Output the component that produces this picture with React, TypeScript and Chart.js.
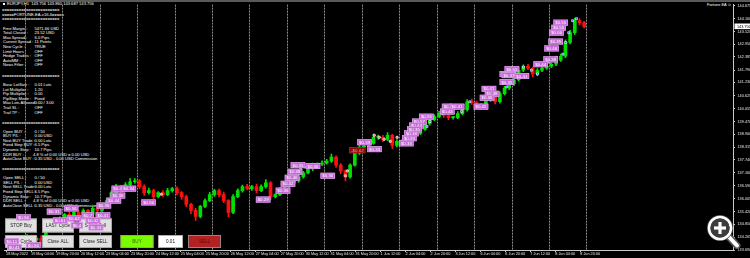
import React, { useEffect, useRef } from "react";
import { Chart, registerables } from "chart.js";
Chart.register(...registerables);

const FONT = '"Liberation Sans", Arial, sans-serif';

// ---- axis data ----
const tickHours = [0, 16, 32, 48, 64, 80, 96, 112, 128, 144, 160, 176, 192, 208, 224, 240, 256, 272, 288, 304, 320, 336, 352, 368];
const tickLabels = ["18 May 2022", "19 May 04:00", "19 May 20:00", "20 May 12:00", "23 May 04:00", "23 May 20:00", "24 May 12:00", "25 May 04:00", "25 May 20:00", "26 May 12:00", "27 May 04:00", "27 May 20:00", "30 May 12:00", "31 May 04:00", "31 May 20:00", "1 Jun 12:00", "2 Jun 04:00", "2 Jun 20:00", "3 Jun 12:00", "6 Jun 04:00", "6 Jun 20:00", "7 Jun 12:00", "8 Jun 04:00", "8 Jun 20:00"];
const gridHours = [12, 36, 60, 84, 108, 132, 156, 180, 204, 228, 252, 276, 300, 324, 348, 372];
const priceTicks = [144.675, 144.1, 143.52, 142.95, 142.385, 141.79, 141.23, 140.625, 140.055, 139.47, 138.9, 138.315, 137.74, 137.16, 136.59, 136.005, 135.42, 134.85, 134.265, 133.69];
const priceMin = 133.69;
const priceMax = 144.733;
const hourMin = -0.955;
const hourMax = 465.9;

// ---- candle data (3-hour candles) ----
const candleHours = 3;
const firstOpen = 134.1;
const closes = [
  134.05, 134.22, 133.96, 134.13, 134.31, 134.13, 134.22, 133.96, 134.58, 134.76,
  134.94, 135.11, 135.29, 135.11, 135.38, 135.2, 135.47, 135.29, 135.56, 135.47,
  135.74, 135.91, 136.27, 136.54, 136.36, 136.63, 136.76, 136.8, 136.54, 136.27,
  136.36, 136.09, 136.27, 136.18, 136.36, 136.45, 136.27, 136.09, 135.74, 135.47,
  135.2, 135.65, 135.91, 136.18, 136.36, 136.18, 135.91, 135.38, 136.09, 136.36,
  136.54, 136.45, 136.54, 136.36, 136.54, 136.71, 136.09, 136.18, 136.36, 136.54,
  136.71, 136.8, 136.98, 137.16, 137.34, 137.51, 137.56, 137.6, 137.69, 137.87,
  137.51, 137.25, 136.98, 137.51, 138.05, 138.32, 138.32, 138.49, 138.76, 138.76,
  138.67, 138.85, 138.4, 138.58, 138.58, 138.76, 138.85, 138.94, 139.12, 139.38,
  139.56, 139.69, 139.83, 139.74, 139.65, 139.65, 139.83, 140.01, 140.36, 140.32,
  140.23, 140.09, 140.45, 140.58, 140.36, 140.72, 140.98, 141.16, 141.34, 141.78,
  141.96, 141.87, 141.61, 141.78, 141.87, 141.96, 142.05, 142.23, 142.41, 143.03,
  143.47, 144.01, 143.92, 143.756,
];
const wickUp = [
  0.05, 0.08, 0.06, 0.1, 0.07, 0.05, 0.09, 0.12, 0.06, 0.08,
  0.1, 0.07, 0.05, 0.12, 0.06, 0.09, 0.07, 0.05, 0.1, 0.08,
  0.06, 0.12, 0.08, 0.1, 0.07, 0.09, 0.14, 0.1, 0.06, 0.08,
  0.12, 0.07, 0.05, 0.09, 0.1, 0.06, 0.08, 0.05, 0.07, 0.06,
  0.09, 0.05, 0.08, 0.1, 0.06, 0.07, 0.12, 0.05, 0.09, 0.08,
  0.07, 0.1, 0.06, 0.12, 0.08, 0.15, 0.06, 0.05, 0.07, 0.09,
  0.06, 0.08, 0.05, 0.07, 0.06, 0.09, 0.05, 0.1, 0.08, 0.14,
  0.06, 0.07, 0.05, 0.06, 0.1, 0.08, 0.12, 0.07, 0.15, 0.1,
  0.09, 0.12, 0.06, 0.08, 0.07, 0.1, 0.06, 0.08, 0.05, 0.07,
  0.06, 0.08, 0.1, 0.07, 0.05, 0.06, 0.09, 0.08, 0.1, 0.12,
  0.07, 0.06, 0.1, 0.08, 0.06, 0.09, 0.07, 0.08, 0.1, 0.12,
  0.06, 0.08, 0.05, 0.07, 0.06, 0.08, 0.05, 0.07, 0.1, 0.12,
  0.1, 0.12, 0.08, 0.06,
];
const wickDn = [
  0.08, 0.06, 0.1, 0.05, 0.07, 0.09, 0.06, 0.15, 0.05, 0.07,
  0.06, 0.09, 0.07, 0.05, 0.1, 0.06, 0.08, 0.07, 0.05, 0.09,
  0.07, 0.05, 0.06, 0.08, 0.1, 0.05, 0.07, 0.06, 0.09, 0.12,
  0.07, 0.1, 0.06, 0.08, 0.05, 0.07, 0.09, 0.12, 0.1, 0.14,
  0.18, 0.07, 0.06, 0.05, 0.08, 0.1, 0.09, 0.2, 0.06, 0.05,
  0.07, 0.06, 0.08, 0.1, 0.05, 0.07, 0.14, 0.06, 0.05, 0.07,
  0.06, 0.05, 0.07, 0.06, 0.05, 0.08, 0.06, 0.07, 0.05, 0.06,
  0.1, 0.12, 0.18, 0.06, 0.05, 0.07, 0.08, 0.06, 0.05, 0.09,
  0.1, 0.06, 0.14, 0.07, 0.08, 0.06, 0.05, 0.07, 0.06, 0.05,
  0.07, 0.06, 0.05, 0.08, 0.09, 0.07, 0.05, 0.06, 0.07, 0.08,
  0.1, 0.09, 0.06, 0.07, 0.1, 0.06, 0.05, 0.07, 0.06, 0.05,
  0.06, 0.07, 0.12, 0.08, 0.06, 0.05, 0.07, 0.06, 0.05, 0.06,
  0.07, 0.08, 0.1, 0.07,
];

// ---- trade markers ----
const buyMarkHours = [176, 178.6, 181, 183.7, 186.2, 188.8, 191.3, 269.8, 271.7, 279.3, 292, 297.2, 303.6, 309.3, 315, 320.8, 324, 327.8, 331.6, 336.7, 340.6, 348.2, 352.6, 356.8, 358.7, 360.6, 363.1, 365.6];
const buyMarkPrices = [136.45, 136.63, 136.8, 136.94, 137.16, 137.34, 137.43, 139.25, 139.47, 139.83, 139.92, 140.36, 140.18, 140.49, 140.67, 141.03, 141.25, 141.47, 141.92, 141.78, 141.61, 142.14, 142.36, 142.5, 143.03, 143.47, 144.01, 144.1];
const closeMarkHours = [217.5, 218.8, 236, 239.2, 242.3, 246.2, 250.6, 253.8, 99.5];
const closeMarkPrices = [137.03, 137.25, 138.85, 138.76, 138.67, 138.58, 138.76, 138.49, 136.2];

// ---- profit labels ----
const labelHours = [67.6, 74.0, 67.0, 64.4, 58.0, 86.7, 6.4, 26.1, 37.0, 30.0, 38.9, 48.5, 57.4, 51.0, 41.5, 52.9, -0.9, 0.6, 12.8, 160.1, 172.8, 176.0, 178.6, 180.5, 182.4, 192.0, 201.5, 220.0, 231.5, 225.1, 251.9, 253.8, 255.1, 264.7, 260.2, 258.3, 257.0, 279.3, 284.4, 278.1, 299.7, 304.8, 306.8, 303.6, 316.3, 350.8, 349.5, 348.2, 347.6, 345.0, 344.4, 338.0, 319.5, 317.6, 325.9, 316.3];
const labelPrices = [136.45, 136.45, 136.14, 135.91, 135.69, 135.83, 135.16, 135.42, 135.56, 135.02, 135.11, 135.25, 135.25, 135.02, 134.8, 134.71, 134.09, 133.82, 133.91, 135.96, 136.36, 136.67, 136.94, 137.21, 137.51, 137.47, 137.03, 138.18, 138.23, 138.54, 138.49, 138.72, 138.94, 139.69, 139.47, 139.29, 139.12, 140.14, 140.14, 139.92, 140.14, 140.94, 140.72, 140.54, 141.61, 143.92, 143.69, 143.47, 143.07, 142.76, 142.27, 142.05, 141.83, 141.56, 141.52, 141.25];
const labelTexts = ["$0.4", "$0.34", "$0.36", "$0.44", "$0.36", "$0.50", "$0.56", "$0.31", "$0.56", "$0.61", "$0.62", "$0.7", "$0.41", "$0.42", "$0.4", "$0.33", "$0.11", "$0.41", "$0.56", "$0.29", "$0.36", "$0.42", "$0.46", "$0.38", "$0.35", "$0.36", "$0.30", "-$0.02", "$0.33", "$0.39", "$0.33", "$0.33", "$0.38", "$0.55", "$0.57", "$0.44", "$0.35", "$0.", "$0.41", "$0.44", "$0.42", "$0.41", "$0.38", "$0.56", "$0.4", "$0.55", "$0.55", "$0.60", "$0.35", "$0.46", "$0.38", "$0.44", "$0.55", "$0.37", "$0.41", "$0.35"];

// ---- panel text ----
const panelRows: [number, string, string][] = [
  [28.7, "Free Margin :", "5471.66 USD"],
  [33.3, "Total Closed :", "23.52 USD"],
  [37.9, "Max Spread :", "6.0 Pips"],
  [42.5, "Current Spread :", "11 Points"],
  [47.1, "New Cycle :", "TRUE"],
  [51.7, "Limit Hours :", "OFF"],
  [56.3, "Hedge Trades :", "OFF"],
  [60.9, "AutoMM :", "OFF"],
  [65.5, "News Filter :", "OFF"],
  [85.0, "Base LotSize :", "0.01 Lots"],
  [89.6, "Lot Multiplier :", "1.20"],
  [94.2, "Pip Multiplier :", "0.00"],
  [98.8, "PipStep Mode :", "Fixed"],
  [103.4, "Max Lots Allowed :", "0.00 / 3.00"],
  [108.0, "Trail SL :", "OFF"],
  [112.6, "Trail TP :", "OFF"],
  [131.7, "Open BUY :", "0 / 50"],
  [136.3, "BUY P/L :", "0.00 USD"],
  [140.9, "Next BUY Trade :", "0.00 Lots"],
  [145.5, "Fixed Step BUY :", "6.5 Pips"],
  [150.1, "Dynamic Step :", "10.7 Pips"],
  [154.7, "DDR BUY :", "4.8 % of 0.00 USD = 0.00 USD"],
  [159.3, "AutoClose BUY :", "0.35 USD - 0.00 USD Commission"],
  [178.3, "Open SELL :", "0 / 50"],
  [182.9, "SELL P/L :", "0.00 USD"],
  [187.5, "Next SELL Trade :", "0.00 Lots"],
  [192.1, "Fixed Step SELL :", "6.5 Pips"],
  [196.7, "Dynamic Step :", "10.7 Pips"],
  [201.3, "DDR SELL :", "4.8 % of 0.00 USD = 0.00 USD"],
  [205.9, "AutoClose SELL :", "0.35 USD - 0.00 USD Commission"],
];
const separatorRows = [10, 19, 76, 122.7, 169.3];

const UP = "#00e000";
const DOWN = "#ff1010";

function drawButton(ctx: CanvasRenderingContext2D, x: number, y: number, w: number, h: number, text: string, fill: string, color: string) {
  ctx.fillStyle = fill;
  ctx.fillRect(x, y, w, h);
  ctx.lineWidth = 0.8;
  ctx.strokeStyle = "#9a9a9a";
  ctx.strokeRect(x + 0.4, y + 0.4, w - 0.8, h - 0.8);
  ctx.fillStyle = color;
  ctx.font = `4.6px ${FONT}`;
  ctx.textAlign = "center";
  ctx.textBaseline = "middle";
  ctx.fillText(text, x + w / 2, y + h / 2 + 0.3);
}

const overlayPlugin = {
  id: "mtOverlay",
  beforeDatasetsDraw(chart: any) {
    const { ctx, chartArea, scales } = chart;
    const x = scales.x;
    ctx.save();
    ctx.strokeStyle = "#8e8e8e";
    ctx.lineWidth = 1;
    ctx.setLineDash([2, 1]);
    gridHours.forEach((h) => {
      const px = Math.round(x.getPixelForValue(h)) + 0.5;
      ctx.beginPath();
      ctx.moveTo(px, chartArea.top);
      ctx.lineTo(px, chartArea.bottom);
      ctx.stroke();
    });
    ctx.restore();
  },
  afterDatasetsDraw(chart: any) {
    const { ctx, scales } = chart;
    const x = scales.x;
    const y = scales.y;
    ctx.save();
    // EA buttons
    const gray = "#e0e0e0";
    drawButton(ctx, 5, 218.5, 32, 14, "STOP Buy", gray, "#222");
    drawButton(ctx, 42, 218.5, 32, 14, "LAST Cycle", gray, "#222");
    drawButton(ctx, 79, 218.5, 33, 14, "STOP Sell", gray, "#222");
    drawButton(ctx, 5, 235, 32, 13, "Stop Cycle", gray, "#222");
    drawButton(ctx, 42, 235, 32, 13, "Close ALL", gray, "#222");
    drawButton(ctx, 79, 235, 33, 13, "Close SELL", gray, "#222");
    drawButton(ctx, 120.5, 235, 33, 13, "BUY", "#7cfc00", "#2d6a00");
    drawButton(ctx, 158, 235, 25, 13, "0.01", "#ffffff", "#111");
    drawButton(ctx, 188, 235, 33, 13, "SELL", "#b22222", "#5c0a0a");
    // profit labels
    ctx.font = `4.4px ${FONT}`;
    ctx.textAlign = "left";
    ctx.textBaseline = "middle";
    labelTexts.forEach((t, i) => {
      const px = x.getPixelForValue(labelHours[i]);
      const py = y.getPixelForValue(labelPrices[i]);
      const w = ctx.measureText(t).width + 3.6;
      const h = 6;
      const loss = t.startsWith("-");
      ctx.fillStyle = loss ? "#8b0a0a" : "#c46ad6";
      ctx.fillRect(px, py - h / 2, w, h);
      ctx.strokeStyle = loss ? "#b03030" : "#e2a6ec";
      ctx.lineWidth = 0.6;
      ctx.strokeRect(px + 0.3, py - h / 2 + 0.3, w - 0.6, h - 0.6);
      ctx.fillStyle = loss ? "#ff9a9a" : "#ffffff";
      ctx.fillText(t, px + 1.8, py + 0.3);
    });
    ctx.restore();
  },
  afterDraw(chart: any) {
    const { ctx, scales } = chart;
    const y = scales.y;
    ctx.save();
    // top gray bar
    ctx.fillStyle = "#5a5a5a";
    ctx.fillRect(0, 0, 750, 2);
    // current price box
    const last = closes[closes.length - 1];
    const py = y.getPixelForValue(last);
    ctx.fillStyle = "#ffffff";
    ctx.fillRect(734.5, py - 2.8, 15.5, 5.6);
    ctx.fillStyle = "#000000";
    ctx.font = `3.8px ${FONT}`;
    ctx.textAlign = "left";
    ctx.textBaseline = "middle";
    ctx.fillText(last.toFixed(3), 737, py + 0.2);
    // magnifier icon
    const cx = 720, cy = 228;
    ctx.lineCap = "round";
    ctx.strokeStyle = "#555555";
    ctx.lineWidth = 7;
    ctx.beginPath(); ctx.moveTo(729, 237); ctx.lineTo(737, 245.5); ctx.stroke();
    ctx.strokeStyle = "#ffffff";
    ctx.lineWidth = 4;
    ctx.beginPath(); ctx.moveTo(729, 237); ctx.lineTo(737, 245.5); ctx.stroke();
    ctx.beginPath(); ctx.arc(cx, cy, 13, 0, Math.PI * 2); ctx.fillStyle = "#555555"; ctx.fill();
    ctx.beginPath(); ctx.arc(cx, cy, 11, 0, Math.PI * 2); ctx.strokeStyle = "#ffffff"; ctx.lineWidth = 2.6; ctx.stroke();
    ctx.beginPath(); ctx.arc(cx, cy, 9.6, 0, Math.PI * 2); ctx.fillStyle = "#3c3c3c"; ctx.fill();
    ctx.fillStyle = "#ffffff";
    ctx.fillRect(cx - 1.6, cy - 6, 3.2, 12);
    ctx.fillRect(cx - 6, cy - 1.6, 12, 3.2);
    ctx.restore();
  },
};

export default function App() {
  const ref = useRef<HTMLCanvasElement>(null);
  useEffect(() => {
    const canvas = ref.current;
    if (!canvas) return;
    const opens = closes.map((c, i) => (i === 0 ? firstOpen : closes[i - 1]));
    const xs = closes.map((_, i) => i * candleHours + candleHours / 2);
    const highs = closes.map((c, i) => Math.max(opens[i], c) + wickUp[i]);
    const lows = closes.map((c, i) => Math.min(opens[i], c) - wickDn[i]);
    const colors = closes.map((c, i) => (c >= opens[i] ? UP : DOWN));
    const axisColor = "#c8c8c8";
    const tickFont = { family: FONT, size: 3.8, lineHeight: 1 };

    const chart = new Chart(canvas, {
      type: "bar",
      data: {
        datasets: [
          {
            type: "scatter",
            data: buyMarkHours.map((h, i) => ({ x: h, y: buyMarkPrices[i] })),
            pointStyle: "rect",
            pointRadius: 1.4,
            backgroundColor: "#3d5bff",
            borderColor: "#ffffff",
            borderWidth: 0.6,
            order: 1,
          } as any,
          {
            type: "scatter",
            data: closeMarkHours.map((h, i) => ({ x: h, y: closeMarkPrices[i] })),
            pointStyle: "circle",
            pointRadius: 1.3,
            backgroundColor: "#ff8a8a",
            borderColor: "#ffffff",
            borderWidth: 0.5,
            order: 2,
          } as any,
          {
            type: "bar",
            data: xs.map((h, i) => ({ x: h, y: [opens[i], closes[i]] })),
            backgroundColor: colors,
            borderWidth: 0,
            barThickness: 3,
            minBarLength: 1,
            grouped: false,
            order: 3,
          } as any,
          {
            type: "bar",
            data: xs.map((h, i) => ({ x: h, y: [lows[i], highs[i]] })),
            backgroundColor: colors,
            borderWidth: 0,
            barThickness: 1,
            grouped: false,
            order: 4,
          } as any,
        ],
      },
      options: {
        animation: false,
        responsive: false,
        maintainAspectRatio: false,
        devicePixelRatio: 1,
        layout: { padding: { top: 2, left: 0, right: 0, bottom: 0 } },
        plugins: { legend: { display: false }, tooltip: { enabled: false } },
        scales: {
          x: {
            type: "linear",
            min: hourMin,
            max: hourMax,
            offset: false,
            afterBuildTicks: (s: any) => {
              s.ticks = tickHours.map((v) => ({ value: v }));
            },
            afterFit: (s: any) => {
              s.height = 8;
            },
            ticks: {
              autoSkip: false,
              maxRotation: 0,
              minRotation: 0,
              align: "start",
              padding: 0.5,
              color: "#e6e6e6",
              font: tickFont,
              callback: (_v: any, i: number) => tickLabels[i],
            },
            grid: { display: true, drawOnChartArea: false, drawTicks: true, tickLength: 2, color: axisColor, offset: false },
            border: { display: true, color: axisColor, width: 1 },
          } as any,
          y: {
            type: "linear",
            position: "right",
            min: priceMin,
            max: priceMax,
            afterBuildTicks: (s: any) => {
              s.ticks = priceTicks.map((v) => ({ value: v }));
            },
            afterFit: (s: any) => {
              s.width = 17;
            },
            ticks: {
              autoSkip: false,
              padding: 2.5,
              color: "#e6e6e6",
              font: tickFont,
              callback: (v: any) => Number(v).toFixed(3),
            },
            grid: { display: true, drawOnChartArea: false, drawTicks: true, tickLength: 2, color: axisColor },
            border: { display: true, color: axisColor, width: 1 },
          } as any,
        },
      },
      plugins: [overlayPlugin as any],
    });
    return () => chart.destroy();
  }, []);

  const textStyle = (left: number, cy: number): React.CSSProperties => ({
    position: "absolute",
    left,
    top: cy - 2.05,
    fontSize: "4.1px",
    lineHeight: "4.1px",
    whiteSpace: "pre",
    color: "#ffffff",
    fontFamily: FONT,
  });

  return (
    <div style={{ position: "fixed", left: 0, top: 0, width: 750, height: 258, background: "#000", overflow: "hidden" }}>
      <div style={{ position: "absolute", left: 0, top: 0, width: 750, height: 258, zIndex: 1 }}>
        <div style={{ position: "absolute", left: 3, top: 3.2, width: 2.4, height: 2.2, background: "#ffffff" }} />
        <div style={textStyle(7, 4.4)}>EURJPY,H1  143.756 143.860 143.687 143.756</div>
        {separatorRows.map((cy, i) => (
          <div key={"s" + i} style={textStyle(2, cy)}>========================</div>
        ))}
        <div style={textStyle(2, 14.7)}>=====FORTUNE-EA-v16.4=====</div>
        {panelRows.map(([cy, label, value], i) => (
          <React.Fragment key={"r" + i}>
            <div style={textStyle(3, cy)}>{label}</div>
            <div style={textStyle(label.startsWith("DDR") ? 33 : 34.5, cy)}>{value}</div>
          </React.Fragment>
        ))}
        <div style={{ ...textStyle(707, 5), fontSize: "3.9px" }}>Fortune EA ☺</div>
      </div>
      <canvas ref={ref} width={750} height={258} style={{ position: "absolute", left: 0, top: 0, width: 750, height: 258, zIndex: 2 }} />
    </div>
  );
}
